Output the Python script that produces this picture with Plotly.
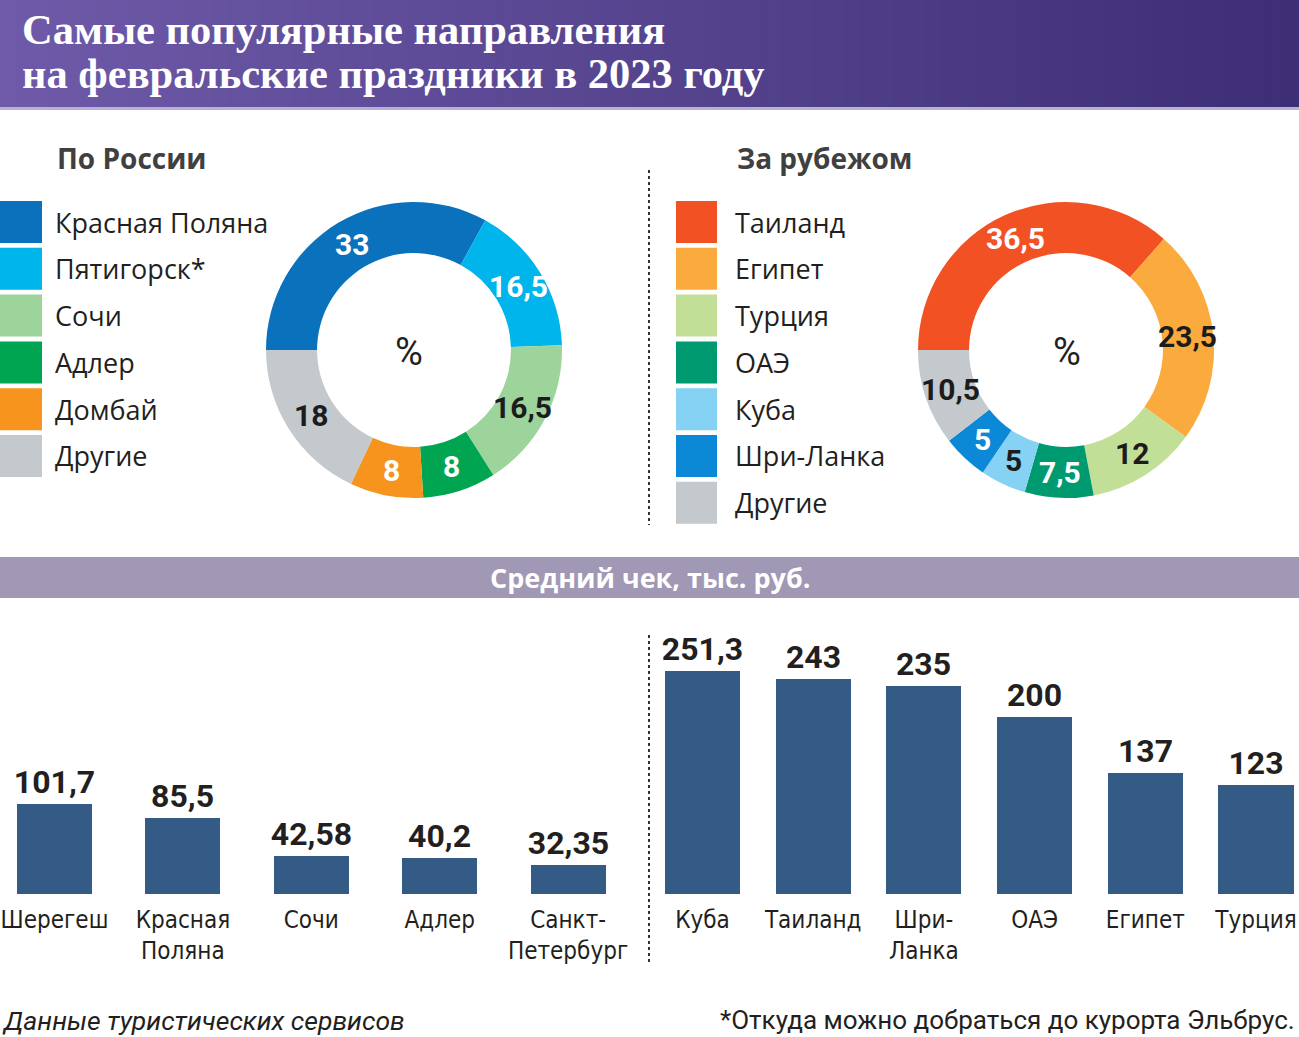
import math
import plotly.graph_objects as go

W, H = 1299, 1037

# ---------------- data ----------------
title_line1 = "Самые популярные направления"
title_line2 = "на февральские праздники в 2023 году"
ru_header = "По России"
ab_header = "За рубежом"

ru_labels = ["Красная Поляна", "Пятигорск*", "Сочи", "Адлер", "Домбай", "Другие"]
ru_shares = [33, 16.5, 16.5, 8, 8, 18]

ab_labels = ["Таиланд", "Египет", "Турция", "ОАЭ", "Куба", "Шри-Ланка", "Другие"]
ab_shares = [36.5, 23.5, 12, 7.5, 5, 5, 10.5]

band_title = "Средний чек, тыс. руб."

ru_bar_cats = ["Шерегеш", "Красная Поляна", "Сочи", "Адлер", "Санкт-Петербург"]
ru_bar_ticks = ["Шерегеш", "Красная<br>Поляна", "Сочи", "Адлер", "Санкт-<br>Петербург"]
ru_bar_vals = [101.7, 85.5, 42.58, 40.2, 32.35]

ab_bar_cats = ["Куба", "Таиланд", "Шри-Ланка", "ОАЭ", "Египет", "Турция"]
ab_bar_ticks = ["Куба", "Таиланд", "Шри-<br>Ланка", "ОАЭ", "Египет", "Турция"]
ab_bar_vals = [251.3, 243, 235, 200, 137, 123]

source_note = "Данные туристических сервисов"
foot_note = "*Откуда можно добраться до курорта Эльбрус."

# ---------------- styles ----------------
ru_colors = ["#0a72bd", "#00b5ec", "#9dd49c", "#00a551", "#f7941d", "#c3c9cc"]
ru_txt = ["white", "white", "#1c1c1c", "white", "white", "#1c1c1c"]
ab_colors = ["#f15123", "#fbaa3d", "#c2df98", "#009a70", "#86d2f4", "#0b88d6", "#c3c9cc"]
ab_txt = ["white", "#1c1c1c", "#1c1c1c", "white", "#1c1c1c", "white", "#1c1c1c"]
BAR = "#345a86"
DARK = "#231f20"
NUM = "Roboto, 'Liberation Sans', sans-serif"
TICK = "'Noto Sans Condensed', 'DejaVu Sans Condensed', Roboto, sans-serif"
SANS = "'Open Sans', 'Noto Sans', sans-serif"
SERIF = "'Liberation Serif', 'DejaVu Serif', serif"


def fmt(v):
    return f"{v:g}".replace(".", ",")


def px(x):
    return x / W


def py(y):
    return 1 - y / H


fig = go.Figure()
anns = []
shapes = []

ROT = 270
HOLE = 0.655


# ---------------- donuts ----------------
def donut(labels, vals, colors, tcols, cx, cy, r):
    fig.add_trace(go.Pie(
        labels=labels, values=vals, sort=False, direction="clockwise", rotation=ROT,
        hole=HOLE, marker=dict(colors=colors, line=dict(width=0)),
        textinfo="none", textposition="none",
        domain=dict(x=[px(cx - r), px(cx + r)], y=[py(cy + r), py(cy - r)]),
        showlegend=False, hoverinfo="label+value",
    ))
    # value labels placed at the middle of each ring segment
    total = sum(vals)
    rm = r * (1 + HOLE) / 2
    cum = 0
    for v, tc in zip(vals, tcols):
        th = math.radians(ROT + (cum + v / 2) / total * 360)
        cum += v
        anns.append(dict(text=fmt(v), x=px(cx + rm * math.sin(th)), y=py(cy - rm * math.cos(th)),
                         xref="paper", yref="paper", xanchor="center", yanchor="middle",
                         showarrow=False,
                         font=dict(family=NUM, size=30, color=tc, weight="bold")))


donut(ru_labels, ru_shares, ru_colors, ru_txt, 414, 350, 148)
donut(ab_labels, ab_shares, ab_colors, ab_txt, 1066, 350, 148)

# ---------------- bars ----------------
for cats, vals, w, xa, ya in [(ru_bar_cats, ru_bar_vals, 0.584, "x", "y"),
                              (ab_bar_cats, ab_bar_vals, 0.678, "x2", "y2")]:
    fig.add_trace(go.Bar(
        x=cats, y=vals, marker=dict(color=BAR, line=dict(width=0)), width=w,
        text=[fmt(v) for v in vals], textposition="outside", cliponaxis=False,
        constraintext="none",
        textfont=dict(family=NUM, size=32, color=DARK, weight="bold"),
        xaxis=xa, yaxis=ya, showlegend=False,
    ))

base_px = 894
top_px = 620
scale = 0.886
ymax = (base_px - top_px) / scale
ydom = [py(base_px), py(top_px)]

xcommon = dict(type="category", showgrid=False, zeroline=False, showline=False,
               ticks="", automargin=False,
               tickfont=dict(family=TICK, size=24, color=DARK),
               ticklabelstandoff=9, fixedrange=True)
ycommon = dict(range=[0, ymax], domain=ydom, visible=False, showgrid=False,
               zeroline=False, automargin=False, fixedrange=True)

sp1 = 128.4
r0 = -54.5 / sp1
sp2 = 110.7
q0 = -(702.5 - 650) / sp2

fig.update_layout(
    template="none",
    width=W, height=H, margin=dict(l=0, r=0, t=0, b=0, pad=0, autoexpand=False),
    paper_bgcolor="white", plot_bgcolor="rgba(0,0,0,0)",
    bargap=0,
    xaxis=dict(domain=[0, px(632)], range=[r0, r0 + 632 / sp1],
               tickmode="array", tickvals=ru_bar_cats, ticktext=ru_bar_ticks, anchor="y", **xcommon),
    yaxis=dict(anchor="x", **ycommon),
    xaxis2=dict(domain=[px(650), 1], range=[q0, q0 + 649 / sp2],
                tickmode="array", tickvals=ab_bar_cats, ticktext=ab_bar_ticks, anchor="y2", **xcommon),
    yaxis2=dict(anchor="x2", **ycommon),
)

# title band gradient
c0 = (0x6e, 0x5a, 0xa8)
c1 = (0x3e, 0x2e, 0x76)
N = 80
for i in range(N):
    t = i / (N - 1)
    col = "rgb(%d,%d,%d)" % tuple(round(a + (b - a) * t) for a, b in zip(c0, c1))
    shapes.append(dict(type="rect", xref="paper", yref="paper",
                       x0=px(W * i / N), x1=px(W * (i + 1) / N + 1), y0=py(107), y1=1,
                       fillcolor=col, line=dict(width=0), layer="below"))
shapes.append(dict(type="rect", xref="paper", yref="paper", x0=0, x1=1, y0=py(110), y1=py(107),
                   fillcolor="#b9b0d6", line=dict(width=0), layer="below"))

anns.append(dict(text=title_line1, x=px(20), y=py(30), xref="paper", yref="paper",
                 xanchor="left", yanchor="middle", showarrow=False,
                 font=dict(family=SERIF, size=42.5, color="white", weight="bold")))
anns.append(dict(text=title_line2, x=px(20), y=py(74), xref="paper", yref="paper",
                 xanchor="left", yanchor="middle", showarrow=False,
                 font=dict(family=SERIF, size=42.5, color="white", weight="bold")))

# headers
for txt, x in [(ru_header, 55), (ab_header, 735)]:
    anns.append(dict(text=txt, x=px(x), y=py(158), xref="paper", yref="paper",
                     xanchor="left", yanchor="middle", showarrow=False,
                     font=dict(family=SANS, size=28, color="#404040", weight="bold")))


# legends
def legend(labels, colors, sx0, sx1, tx):
    for i, (lab, col) in enumerate(zip(labels, colors)):
        cy = 222 + 46.8 * i
        shapes.append(dict(type="rect", xref="paper", yref="paper",
                           x0=px(sx0), x1=px(sx1), y0=py(cy + 21), y1=py(cy - 21),
                           fillcolor=col, line=dict(width=0)))
        anns.append(dict(text=lab, x=px(tx), y=py(cy), xref="paper", yref="paper",
                         xanchor="left", yanchor="middle", showarrow=False,
                         font=dict(family=SANS, size=27, color=DARK)))


legend(ru_labels, ru_colors, 0, 42, 53)
legend(ab_labels, ab_colors, 676, 717, 733)

# percent signs
for x in [409, 1067]:
    anns.append(dict(text="%", x=px(x), y=py(352), xref="paper", yref="paper",
                     xanchor="center", yanchor="middle", showarrow=False,
                     font=dict(family=NUM, size=38, color=DARK)))

# dotted separators
for y0, y1 in [(170, 525), (635, 965)]:
    shapes.append(dict(type="line", xref="paper", yref="paper", x0=px(649), x1=px(649),
                       y0=py(y0), y1=py(y1), line=dict(color="#333333", width=2, dash="dot")))

# band
shapes.append(dict(type="rect", xref="paper", yref="paper", x0=0, x1=1, y0=py(598), y1=py(557),
                   fillcolor="#a098b5", line=dict(width=0), layer="below"))
anns.append(dict(text=band_title, x=0.5, y=py(577), xref="paper", yref="paper",
                 xanchor="center", yanchor="middle", showarrow=False,
                 font=dict(family=SANS, size=27, color="white", weight="bold")))

# footer
anns.append(dict(text="<i>" + source_note + "</i>", x=0, y=py(1020), xref="paper", yref="paper",
                 xanchor="left", yanchor="middle", showarrow=False,
                 font=dict(family=NUM, size=26.5, color=DARK)))
anns.append(dict(text=foot_note, x=px(1297), y=py(1020), xref="paper", yref="paper",
                 xanchor="right", yanchor="middle", showarrow=False,
                 font=dict(family=NUM, size=26, color=DARK)))

fig.update_layout(shapes=shapes, annotations=anns)
fig.write_html("out.html", config={"displayModeBar": False},
               post_script="document.body.style.margin='0px';")
